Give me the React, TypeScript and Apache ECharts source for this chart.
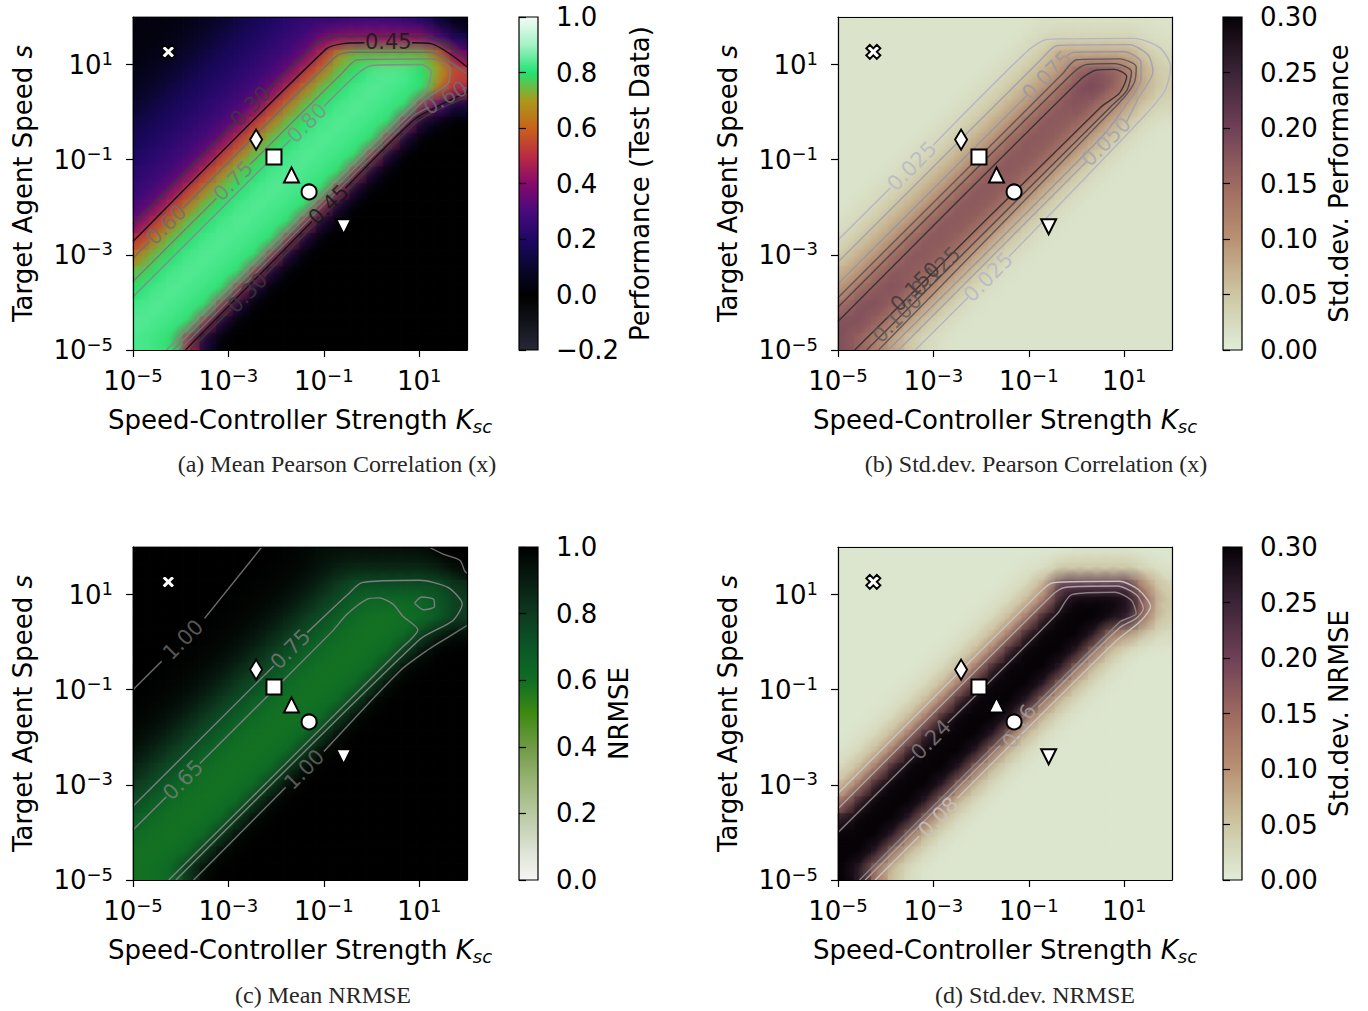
import React, { useEffect, useRef } from 'react';
import * as echarts from 'echarts';

const FONT = "'DejaVu Sans', sans-serif";
const SERIF = "'Liberation Serif', 'DejaVu Serif', serif";

// Sampled maps on a 20 x 20 grid of cells spanning K_sc = 1e-5..1e2 and s = 1e-5..1e2.
// Rows run from the top (largest s) to the bottom, columns from the smallest K_sc.
const meanCorrelation = [
  [.03, .03, .03, .05, .07, .10, .14, .17, .20, .23, .25, .26, .27, .28, .28, .28, .26, .22, .12, .04],
  [.03, .03, .05, .07, .10, .14, .17, .20, .23, .26, .29, .38, .42, .43, .43, .43, .43, .42, .30, .18],
  [.03, .05, .07, .10, .14, .17, .20, .23, .26, .29, .38, .52, .70, .75, .75, .75, .75, .74, .62, .40],
  [.05, .07, .10, .14, .17, .20, .23, .26, .29, .38, .52, .65, .76, .80, .83, .84, .83, .80, .70, .55],
  [.07, .10, .14, .17, .20, .23, .26, .29, .38, .52, .65, .76, .80, .83, .84, .83, .82, .79, .60, .47],
  [.10, .14, .17, .20, .23, .26, .29, .38, .52, .65, .76, .80, .83, .84, .83, .82, .79, .48, .30, .12],
  [.14, .17, .20, .23, .26, .29, .38, .52, .65, .76, .80, .83, .84, .83, .82, .79, .45, .12, .03, 0],
  [.17, .20, .23, .26, .29, .38, .52, .65, .76, .80, .83, .84, .83, .82, .79, .48, .12, 0, 0, 0],
  [.20, .23, .26, .29, .38, .52, .65, .76, .80, .83, .84, .83, .82, .79, .48, .12, 0, 0, 0, 0],
  [.23, .26, .29, .38, .52, .65, .76, .80, .83, .84, .83, .82, .79, .48, .12, 0, 0, 0, 0, 0],
  [.26, .29, .38, .52, .65, .76, .80, .83, .84, .83, .82, .79, .48, .12, 0, 0, 0, 0, 0, 0],
  [.29, .38, .52, .65, .76, .80, .83, .84, .83, .82, .79, .48, .12, 0, 0, 0, 0, 0, 0, 0],
  [.38, .52, .65, .76, .80, .83, .84, .83, .82, .79, .48, .12, 0, 0, 0, 0, 0, 0, 0, 0],
  [.52, .65, .76, .80, .83, .84, .83, .82, .79, .48, .12, 0, 0, 0, 0, 0, 0, 0, 0, 0],
  [.65, .76, .80, .83, .84, .83, .82, .79, .48, .12, 0, 0, 0, 0, 0, 0, 0, 0, 0, 0],
  [.76, .80, .83, .84, .83, .82, .79, .48, .12, 0, 0, 0, 0, 0, 0, 0, 0, 0, 0, 0],
  [.80, .83, .84, .83, .82, .79, .48, .12, 0, 0, 0, 0, 0, 0, 0, 0, 0, 0, 0, 0],
  [.83, .84, .83, .82, .79, .48, .12, 0, 0, 0, 0, 0, 0, 0, 0, 0, 0, 0, 0, 0],
  [.84, .83, .82, .79, .48, .12, 0, 0, 0, 0, 0, 0, 0, 0, 0, 0, 0, 0, 0, 0],
  [.83, .82, .79, .48, .12, 0, 0, 0, 0, 0, 0, 0, 0, 0, 0, 0, 0, 0, 0, 0],
];

const stdCorrelation = [
  [.013, .013, .013, .013, .013, .013, .013, .013, .013, .013, .013, .013, .018, .018, .018, .018, .018, .018, .015, .013],
  [.013, .013, .013, .013, .013, .013, .013, .013, .013, .013, .013, .02, .03, .035, .035, .035, .035, .035, .025, .018],
  [.013, .013, .013, .013, .013, .013, .013, .013, .013, .013, .02, .03, .05, .085, .085, .085, .085, .08, .05, .03],
  [.013, .013, .013, .013, .013, .013, .013, .013, .013, .02, .03, .05, .075, .1, .16, .18, .17, .13, .07, .04],
  [.013, .013, .013, .013, .013, .013, .013, .013, .02, .03, .05, .075, .1, .15, .18, .19, .16, .12, .07, .04],
  [.013, .013, .013, .013, .013, .013, .013, .02, .03, .05, .075, .1, .15, .17, .18, .155, .12, .08, .045, .03],
  [.013, .013, .013, .013, .013, .013, .02, .03, .05, .075, .1, .15, .17, .17, .155, .12, .08, .045, .025, .015],
  [.013, .013, .013, .013, .013, .02, .03, .05, .075, .1, .15, .17, .17, .155, .12, .08, .045, .025, .015, .012],
  [.013, .013, .013, .013, .02, .03, .05, .075, .1, .15, .17, .17, .155, .12, .08, .045, .025, .015, .012, .012],
  [.013, .013, .013, .02, .03, .05, .075, .1, .15, .17, .17, .155, .12, .08, .045, .025, .015, .012, .012, .012],
  [.013, .013, .02, .03, .05, .075, .1, .15, .17, .17, .155, .12, .08, .045, .025, .015, .012, .012, .012, .012],
  [.013, .02, .03, .05, .075, .1, .15, .17, .17, .155, .12, .08, .045, .025, .015, .012, .012, .012, .012, .012],
  [.02, .03, .05, .075, .1, .15, .17, .17, .155, .12, .08, .045, .025, .015, .012, .012, .012, .012, .012, .012],
  [.03, .05, .075, .1, .15, .17, .17, .155, .12, .08, .045, .025, .015, .012, .012, .012, .012, .012, .012, .012],
  [.05, .075, .1, .15, .17, .17, .155, .12, .08, .045, .025, .015, .012, .012, .012, .012, .012, .012, .012, .012],
  [.075, .1, .15, .17, .17, .155, .12, .08, .045, .025, .015, .012, .012, .012, .012, .012, .012, .012, .012, .012],
  [.1, .15, .17, .18, .155, .12, .08, .045, .025, .015, .012, .012, .012, .012, .012, .012, .012, .012, .012, .012],
  [.15, .18, .18, .155, .12, .08, .045, .025, .015, .012, .012, .012, .012, .012, .012, .012, .012, .012, .012, .012],
  [.18, .18, .155, .12, .08, .045, .025, .015, .012, .012, .012, .012, .012, .012, .012, .012, .012, .012, .012, .012],
  [.18, .155, .12, .08, .045, .025, .015, .012, .012, .012, .012, .012, .012, .012, .012, .012, .012, .012, .012, .012],
];

const meanNrmse = [
  [1, 1, 1, 1, 1, 1, 1, 1, 1, .99, .97, .95, .94, .94, .94, .94, .94, .95, .99, 1],
  [1, 1, 1, 1, 1, 1, 1, 1, .99, .98, .96, .92, .88, .86, .86, .86, .86, .86, .89, .96],
  [1, 1, 1, 1, 1, 1, 1, .99, .98, .96, .92, .86, .79, .72, .72, .72, .72, .72, .74, .82],
  [1, 1, 1, 1, 1, 1, .99, .98, .96, .92, .86, .79, .72, .65, .63, .62, .62, .64, .7, .78],
  [1, 1, 1, 1, 1, .99, .98, .96, .92, .86, .79, .72, .65, .61, .59, .59, .6, .63, .7, .8],
  [1, 1, 1, 1, .99, .98, .96, .92, .86, .79, .72, .65, .61, .59, .59, .6, .63, .8, .9, .97],
  [1, 1, 1, .99, .98, .96, .92, .86, .79, .72, .65, .61, .59, .59, .6, .63, .82, .95, 1, 1],
  [1, 1, .99, .98, .96, .92, .86, .79, .72, .65, .61, .59, .59, .6, .63, .82, .98, 1, 1, 1],
  [1, .99, .98, .96, .92, .86, .79, .72, .65, .61, .59, .59, .6, .63, .82, .98, 1, 1, 1, 1],
  [.99, .98, .96, .92, .86, .79, .72, .65, .61, .59, .59, .6, .63, .82, .98, 1, 1, 1, 1, 1],
  [.98, .96, .92, .86, .79, .72, .65, .61, .59, .59, .6, .63, .82, .98, 1, 1, 1, 1, 1, 1],
  [.96, .92, .86, .79, .72, .65, .61, .59, .59, .6, .63, .82, .98, 1, 1, 1, 1, 1, 1, 1],
  [.92, .86, .79, .72, .65, .61, .59, .59, .6, .63, .82, .98, 1, 1, 1, 1, 1, 1, 1, 1],
  [.86, .79, .72, .65, .61, .59, .59, .6, .63, .82, .98, 1, 1, 1, 1, 1, 1, 1, 1, 1],
  [.79, .72, .65, .61, .59, .59, .6, .63, .82, .98, 1, 1, 1, 1, 1, 1, 1, 1, 1, 1],
  [.72, .65, .61, .59, .59, .6, .63, .82, .98, 1, 1, 1, 1, 1, 1, 1, 1, 1, 1, 1],
  [.65, .61, .59, .59, .6, .63, .82, .98, 1, 1, 1, 1, 1, 1, 1, 1, 1, 1, 1, 1],
  [.61, .59, .59, .6, .63, .82, .98, 1, 1, 1, 1, 1, 1, 1, 1, 1, 1, 1, 1, 1],
  [.59, .59, .6, .63, .82, .98, 1, 1, 1, 1, 1, 1, 1, 1, 1, 1, 1, 1, 1, 1],
  [.59, .6, .63, .82, .98, 1, 1, 1, 1, 1, 1, 1, 1, 1, 1, 1, 1, 1, 1, 1],
];

const stdNrmse = [
  [.01, .01, .01, .01, .01, .01, .01, .01, .01, .01, .01, .01, .01, .01, .015, .015, .015, .015, .01, .01],
  [.01, .01, .01, .01, .01, .01, .01, .01, .01, .01, .01, .015, .02, .05, .05, .05, .05, .05, .03, .015],
  [.01, .01, .01, .01, .01, .01, .01, .01, .01, .01, .015, .03, .08, .22, .22, .22, .22, .22, .1, .04],
  [.01, .01, .01, .01, .01, .01, .01, .01, .01, .015, .03, .07, .15, .27, .3, .3, .3, .28, .16, .05],
  [.01, .01, .01, .01, .01, .01, .01, .01, .015, .03, .07, .15, .27, .3, .3, .3, .28, .25, .12, .04],
  [.01, .01, .01, .01, .01, .01, .01, .015, .03, .07, .15, .27, .3, .3, .3, .26, .12, .08, .04, .02],
  [.01, .01, .01, .01, .01, .01, .015, .03, .07, .15, .27, .3, .3, .3, .26, .12, .05, .02, .01, .01],
  [.01, .01, .01, .01, .01, .015, .03, .07, .15, .27, .3, .3, .3, .26, .12, .05, .02, .01, .01, .01],
  [.01, .01, .01, .01, .015, .03, .07, .15, .27, .3, .3, .3, .26, .12, .05, .02, .01, .01, .01, .01],
  [.01, .01, .01, .015, .03, .07, .15, .27, .3, .3, .3, .26, .12, .05, .02, .01, .01, .01, .01, .01],
  [.01, .01, .015, .03, .07, .15, .27, .3, .3, .3, .26, .12, .05, .02, .01, .01, .01, .01, .01, .01],
  [.01, .015, .03, .07, .15, .27, .3, .3, .3, .26, .12, .05, .02, .01, .01, .01, .01, .01, .01, .01],
  [.015, .03, .07, .15, .27, .3, .3, .3, .26, .12, .05, .02, .01, .01, .01, .01, .01, .01, .01, .01],
  [.03, .07, .15, .27, .3, .3, .3, .26, .12, .05, .02, .01, .01, .01, .01, .01, .01, .01, .01, .01],
  [.07, .15, .27, .3, .3, .3, .26, .12, .05, .02, .01, .01, .01, .01, .01, .01, .01, .01, .01, .01],
  [.15, .27, .3, .3, .3, .26, .12, .05, .02, .01, .01, .01, .01, .01, .01, .01, .01, .01, .01, .01],
  [.27, .3, .3, .3, .26, .12, .05, .02, .01, .01, .01, .01, .01, .01, .01, .01, .01, .01, .01, .01],
  [.3, .3, .3, .26, .12, .05, .02, .01, .01, .01, .01, .01, .01, .01, .01, .01, .01, .01, .01, .01],
  [.3, .3, .26, .12, .05, .02, .01, .01, .01, .01, .01, .01, .01, .01, .01, .01, .01, .01, .01, .01],
  [.3, .26, .12, .05, .02, .01, .01, .01, .01, .01, .01, .01, .01, .01, .01, .01, .01, .01, .01, .01],
];

// Reference configurations (K_sc, s) shown on every map.
const markerNames = ['x', 'diamond', 'square', 'triangle', 'circle', 'triangleDown'];
const markerK = [5.5e-5, 3.8e-3, 9.0e-3, 0.021, 0.049, 0.26];
const markerS = [18.5, 0.265, 0.114, 0.048, 0.021, 0.0039];

// Contour polylines, points given as (log10 K_sc, log10 s); gaps leave room for the labels.
const corrMeanContours = [
  { level: '0.30', color: '#3a3a3a', segments: [
    [[-5, -2.35], [-2.85, -0.2]],
    [[-2.2, 0.45], [-1.15, 1.45], [-0.85, 1.6], [1.2, 1.6], [1.6, 1.4], [2, 1.12]],
    [[-3.8, -5], [-2.95, -4.15]],
    [[-2.25, -3.45], [0.9, -0.25], [1.4, 0.05], [2, 0.32]]] },
  { level: '0.45', color: '#141414', segments: [
    [[-5, -2.72], [-0.95, 1.33], [-0.6, 1.44], [-0.15, 1.46]],
    [[0.85, 1.46], [1.25, 1.44], [1.65, 1.22], [2, 0.95]],
    [[-3.9, -5], [-1.25, -2.3]],
    [[-0.55, -1.6], [0.9, -0.15], [1.4, 0.13], [2, 0.42]]] },
  { level: '0.60', color: '#6e6e6e', segments: [
    [[-5, -3.07], [-4.65, -2.72]],
    [[-3.95, -2.02], [-0.75, 1.17], [-0.45, 1.26], [1.25, 1.26], [1.65, 1.05], [2, 0.8]],
    [[-4.02, -5], [0.85, -0.1], [1.2, 0.1]],
    [[1.9, 0.48], [2, 0.52]]] },
  { level: '0.75', color: '#7c7c7c', segments: [
    [[-5, -3.56], [-3.25, -1.81]],
    [[-2.55, -1.1], [-0.6, 0.84], [-0.3, 1.1], [1.3, 1.12], [1.65, 0.9], [1.6, 0.6], [1.1, 0.25], [-4.16, -5]]] },
  { level: '0.80', color: '#8a8a8a', segments: [
    [[-5, -3.88], [-1.7, -0.58]],
    [[-1.0, 0.12], [-0.3, 0.8], [0.0, 0.98], [1.05, 1.0], [1.25, 0.85], [1.15, 0.45], [0.85, 0.15], [-4.3, -5]]] },
];
const corrMeanLabels = [
  { level: '0.30', at: [-2.54, 0.12], rotate: 45, color: '#3a3a3a' },
  { level: '0.30', at: [-2.6, -3.8], rotate: 45, color: '#3a3a3a' },
  { level: '0.45', at: [0.35, 1.47], rotate: 0, color: '#141414' },
  { level: '0.45', at: [-0.9, -1.95], rotate: 45, color: '#141414' },
  { level: '0.60', at: [-4.3, -2.37], rotate: 45, color: '#6e6e6e' },
  { level: '0.60', at: [1.55, 0.3], rotate: 30, color: '#6e6e6e' },
  { level: '0.75', at: [-2.9, -1.45], rotate: 45, color: '#7c7c7c' },
  { level: '0.80', at: [-1.35, -0.23], rotate: 45, color: '#8a8a8a' },
];

const corrStdContours = [
  { level: '0.025', color: '#b4b6c6', segments: [
    [[-5, -2.69], [-3.9, -1.59]],
    [[-3.0, -0.69], [-1.0, 1.31], [-0.6, 1.53], [1.2, 1.55], [1.75, 1.35], [1.97, 0.95], [1.85, 0.45], [1.4, -0.1], [-1.42, -3.04]],
    [[-2.28, -3.9], [-3.38, -5]]] },
  { level: '0.050', color: '#a2a3b0', segments: [
    [[-5, -3.15], [-0.75, 1.1], [-0.4, 1.4], [1.1, 1.42], [1.5, 1.2], [1.6, 0.85], [1.3, 0.3], [1.05, -0.2]],
    [[0.2, -1.05], [-3.73, -5]]] },
  { level: '0.075', color: '#9797a2', segments: [
    [[-5, -3.61], [-1.05, 0.34]],
    [[-0.2, 1.19], [-0.05, 1.26], [1.0, 1.27], [1.35, 1.05], [1.35, 0.7], [1.0, 0.1], [0.5, -0.55], [-3.95, -5]]] },
  { level: '0.100', color: '#5e5a5e', segments: [
    [[-5, -3.9], [-0.3, 0.8], [0.0, 1.1], [0.9, 1.12], [1.25, 0.95], [1.2, 0.6], [0.85, 0.15], [-4.15, -5]]] },
  { level: '0.125', color: '#4c484c', segments: [
    [[-5, -4.1], [-0.1, 0.8], [0.2, 1.0], [0.8, 1.02], [1.15, 0.85], [1.05, 0.45], [0.7, 0.1], [-4.4, -5]]] },
  { level: '0.150', color: '#383438', segments: [
    [[-5, -4.4], [0.1, 0.7], [0.4, 0.88], [0.8, 0.9], [1.05, 0.75], [0.9, 0.4], [0.5, 0.1], [-4.65, -5]]] },
];
const corrStdLabels = [
  { level: '0.025', at: [-3.45, -1.14], rotate: 45, color: '#b4b6c6' },
  { level: '0.025', at: [-1.85, -3.47], rotate: 45, color: '#b4b6c6' },
  { level: '0.050', at: [0.62, -0.62], rotate: 45, color: '#a2a3b0' },
  { level: '0.075', at: [-0.62, 0.77], rotate: 45, color: '#9797a2' },
  { level: '0.100', at: [-3.76, -4.33], rotate: 45, color: '#5e5a5e' },
  { level: '0.150', at: [-3.38, -3.67], rotate: 45, color: '#383438' },
  { level: '0.125', at: [-2.95, -3.35], rotate: 45, color: '#4c484c' },
];

const nrmseMeanContours = [
  { level: '1.00', color: '#6e6e6e', segments: [
    [[-5, -1.0], [-4.4, -0.4]],
    [[-3.5, 0.5], [-2.3, 2.0]],
    [[1.2, 2.0], [1.5, 1.85], [1.85, 1.72], [1.95, 1.5], [2, 1.45]],
    [[-3.73, -5], [-1.8, -3.05]],
    [[-1.0, -2.3], [0.6, -0.6], [1.2, -0.15], [1.6, 0.1], [2, 0.35]]] },
  { level: '0.75', color: '#7e7e7e', segments: [
    [[-5, -3.45], [-2.05, -0.5]],
    [[-1.35, 0.2], [-0.5, 1.0], [-0.2, 1.25], [1.0, 1.3], [1.6, 1.15], [1.9, 0.8], [1.7, 0.45], [1.0, 0.05], [-4.1, -5]]] },
  { level: '0.65', color: '#7e7e7e', segments: [
    [[-5, -3.95], [-4.3, -3.25]],
    [[-3.6, -2.55], [-0.85, 0.2], [-0.5, 0.6], [-0.1, 0.9], [0.15, 0.93], [0.45, 0.8], [0.65, 0.55], [0.97, 0.26], [0.6, -0.15], [-4.25, -5]],
    [[0.9, 0.82], [1.05, 0.95], [1.3, 0.9], [1.32, 0.75], [1.1, 0.68], [0.9, 0.82]]] },
];
const nrmseMeanLabels = [
  { level: '1.00', at: [-3.95, 0.05], rotate: 45, color: '#6e6e6e' },
  { level: '1.00', at: [-1.41, -2.68], rotate: 45, color: '#6e6e6e' },
  { level: '0.75', at: [-1.7, -0.15], rotate: 45, color: '#7e7e7e' },
  { level: '0.65', at: [-3.95, -2.9], rotate: 45, color: '#7e7e7e' },
];

const nrmseStdContours = [
  { level: '0.08', color: '#c9c3c3', segments: [
    [[-5, -3.18], [-0.75, 1.07], [-0.5, 1.25], [0.9, 1.28], [1.3, 1.1], [1.55, 0.75], [1.35, 0.45], [0.8, 0.0], [-2.5, -3.28]],
    [[-3.3, -4.08], [-4.22, -5]]] },
  { level: '0.16', color: '#aaa2a6', segments: [
    [[-5, -3.5], [-0.5, 1.0], [-0.25, 1.15], [0.85, 1.18], [1.25, 1.0], [1.4, 0.7], [1.25, 0.5], [0.9, 0.3], [-0.8, -1.37]],
    [[-1.6, -2.17], [-4.43, -5]]] },
  { level: '0.24', color: '#888084', segments: [
    [[-5, -4.0], [-3.4, -2.4]],
    [[-2.7, -1.7], [-0.4, 0.6], [-0.1, 1.0], [0.8, 1.05], [1.15, 0.88], [1.25, 0.6], [0.9, 0.42], [-4.55, -5]]] },
];
const nrmseStdLabels = [
  { level: '0.08', at: [-2.9, -3.68], rotate: 45, color: '#c9c3c3' },
  { level: '0.16', at: [-1.2, -1.77], rotate: 60, color: '#aaa2a6' },
  { level: '0.24', at: [-3.05, -2.05], rotate: 45, color: '#888084' },
];

// Colour scales of the four maps.
const corrColors = ['#262837', '#121319', '#000000', '#0a0630', '#1e0866', '#4a0a7c', '#860a6c', '#bb2c42', '#c9621a', '#a99a1c', '#22e272', '#a4f2c6', '#f4fbf6'];
const nrmseColors = ['#f6f6f3', '#d9e0cf', '#b8c9a0', '#97b372', '#6f9a45', '#3d8a10', '#0f6e24', '#0b5626', '#0e3a1f', '#081c10', '#000000'];
const stdColors = ['#e0edd8', '#cdc6a3', '#b99172', '#9e6960', '#6f4057', '#3b2437', '#060206'];

const decadeTicks = [1e-5, 1e-3, 1e-1, 1e1];
const CELLS = 20;
const PLOT_W = 334;
const PLOT_H = 333;
const CB_W = 19;
const AXIS_LINE = { color: '#000', width: 1.2 };

const panels = [
  { left: 133, top: 17, cbLeft: 519, rows: meanCorrelation, colors: corrColors, min: -0.2, max: 1.0, step: 0.2, decimals: 1,
    cbName: 'Performance (Test Data)', cbGap: 89, contours: corrMeanContours, labels: corrMeanLabels,
    caption: '(a) Mean Pearson Correlation (x)', capX: 337, capY: 464 },
  { left: 838, top: 17, cbLeft: 1223, rows: stdCorrelation, colors: stdColors, min: 0, max: 0.3, step: 0.05, decimals: 2,
    cbName: 'Std.dev. Performance', cbGap: 84, contours: corrStdContours, labels: corrStdLabels,
    caption: '(b) Std.dev. Pearson Correlation (x)', capX: 1036, capY: 464 },
  { left: 133, top: 547, cbLeft: 519, rows: meanNrmse, colors: nrmseColors, min: 0, max: 1.0, step: 0.2, decimals: 1,
    cbName: 'NRMSE', cbGap: 68, contours: nrmseMeanContours, labels: nrmseMeanLabels,
    caption: '(c) Mean NRMSE', capX: 323, capY: 995 },
  { left: 838, top: 547, cbLeft: 1223, rows: stdNrmse, colors: stdColors, min: 0, max: 0.3, step: 0.05, decimals: 2,
    cbName: 'Std.dev. NRMSE', cbGap: 84, contours: nrmseStdContours, labels: nrmseStdLabels,
    caption: '(d) Std.dev. NRMSE', capX: 1035, capY: 995 },
];

const markerStyles: Record<string, any> = {
  x: { symbol: 'path://M0,2.5L2.5,0L5,2.5L7.5,0L10,2.5L7.5,5L10,7.5L7.5,10L5,7.5L2.5,10L0,7.5L2.5,5Z', symbolSize: 14 },
  diamond: { symbol: 'diamond', symbolSize: [12, 20] },
  square: { symbol: 'rect', symbolSize: 15 },
  triangle: { symbol: 'triangle', symbolSize: 15 },
  circle: { symbol: 'circle', symbolSize: 15 },
  triangleDown: { symbol: 'triangle', symbolSize: 15, symbolRotate: 180 },
};

const powRich = {
  b: { fontFamily: FONT, fontSize: 26, color: '#000', lineHeight: 30 },
  s: { fontFamily: FONT, fontSize: 18, color: '#000', lineHeight: 18, verticalAlign: 'top' },
};
const nameRich = {
  n: { fontFamily: FONT, fontSize: 26, color: '#000', lineHeight: 30 },
  k: { fontFamily: FONT, fontSize: 26, color: '#000', fontStyle: 'italic', lineHeight: 30 },
  u: { fontFamily: FONT, fontSize: 18, color: '#000', fontStyle: 'italic', lineHeight: 16, verticalAlign: 'bottom' },
};

const powLabel = (v: number) => {
  const e = Math.round(Math.log10(v));
  return `{b|10}{s|${e < 0 ? '\u2212' + -e : e}}`;
};

const toCells = (rows: number[][]) =>
  rows.flatMap((row, r) => row.map((v, i) => [i, rows.length - 1 - r, v]));

const toPoints = (seg: number[][]) => seg.map(([u, v]) => [Math.pow(10, u), Math.pow(10, v)]);

// Solid cell of the colour map.
const drawCell = (params: any, api: any) => {
  const i = api.value(0);
  const j = api.value(1);
  const a = api.coord([i, j + 1]);
  const b = api.coord([i + 1, j]);
  const c = api.visual('color');
  return {
    type: 'rect',
    shape: { x: a[0], y: a[1], width: b[0] - a[0], height: b[1] - a[1] },
    style: { fill: c, stroke: c, lineWidth: 0.8 },
  };
};

// Soft overlay that smooths the shading between neighbouring cells (kept inside the plot area).
const drawSoftCell = (params: any, api: any) => {
  const i = api.value(0);
  const j = api.value(1);
  const ctr = api.coord([i + 0.5, j + 0.5]);
  const size = api.size([1, 1]);
  const R = size[0] * 1.35;
  const cs = params.coordSys;
  const x0 = Math.max(cs.x, ctr[0] - R);
  const x1 = Math.min(cs.x + cs.width, ctr[0] + R);
  const y0 = Math.max(cs.y, ctr[1] - R);
  const y1 = Math.min(cs.y + cs.height, ctr[1] + R);
  const c = api.visual('color');
  return {
    type: 'rect',
    shape: { x: x0, y: y0, width: x1 - x0, height: y1 - y0 },
    style: {
      fill: new echarts.graphic.RadialGradient(ctr[0], ctr[1], R, [
        { offset: 0, color: echarts.color.modifyAlpha(c, 0.7) },
        { offset: 0.5, color: echarts.color.modifyAlpha(c, 0.4) },
        { offset: 1, color: echarts.color.modifyAlpha(c, 0) },
      ], true),
    },
  };
};

function buildOption() {
  const grid: any[] = [];
  const xAxis: any[] = [];
  const yAxis: any[] = [];
  const series: any[] = [];
  const visualMap: any[] = [];

  panels.forEach((p, n) => {
    const g = 2 * n;
    const cg = 2 * n + 1;
    const ax = 3 * n;

    grid.push({ left: p.left, top: p.top, width: PLOT_W, height: PLOT_H });
    grid.push({
      left: p.cbLeft, top: p.top, width: CB_W, height: PLOT_H, show: true,
      borderColor: '#000', borderWidth: 1.2,
      backgroundColor: {
        type: 'linear', x: 0, y: 1, x2: 0, y2: 0,
        colorStops: p.colors.map((c, i) => ({ offset: i / (p.colors.length - 1), color: c })),
      },
    });

    xAxis.push(
      {
        type: 'log', logBase: 10, gridIndex: g, position: 'bottom', min: 1e-5, max: 1e2, z: 10,
        axisLine: { show: true, onZero: false, lineStyle: AXIS_LINE },
        axisTick: { show: true, length: 7, lineStyle: AXIS_LINE, customValues: decadeTicks },
        axisLabel: { show: true, margin: 16, customValues: decadeTicks, formatter: powLabel, rich: powRich },
        minorTick: { show: false }, splitLine: { show: false }, minorSplitLine: { show: false },
        name: '{n|Speed-Controller Strength }{k|K}{u|sc}', nameLocation: 'middle', nameGap: 55,
        nameTextStyle: { rich: nameRich },
      },
      {
        type: 'value', gridIndex: g, position: 'top', min: 0, max: CELLS, z: 10,
        axisLine: { show: true, onZero: false, lineStyle: AXIS_LINE },
        axisTick: { show: false }, axisLabel: { show: false }, splitLine: { show: false },
      },
      { type: 'value', gridIndex: cg, show: false, min: 0, max: 1 },
    );

    yAxis.push(
      {
        type: 'log', logBase: 10, gridIndex: g, position: 'left', min: 1e-5, max: 1e2, z: 10,
        axisLine: { show: true, onZero: false, lineStyle: AXIS_LINE },
        axisTick: { show: true, length: 7, lineStyle: AXIS_LINE, customValues: decadeTicks },
        axisLabel: { show: true, margin: 20, customValues: decadeTicks, formatter: powLabel, rich: powRich },
        minorTick: { show: false }, splitLine: { show: false }, minorSplitLine: { show: false },
        name: '{n|Target Agent Speed }{k|s}', nameLocation: 'middle', nameRotate: 90, nameGap: 95,
        nameTextStyle: { rich: nameRich },
      },
      {
        type: 'value', gridIndex: g, position: 'right', min: 0, max: CELLS, z: 10,
        axisLine: { show: true, onZero: false, lineStyle: AXIS_LINE },
        axisTick: { show: false }, axisLabel: { show: false }, splitLine: { show: false },
      },
      {
        type: 'value', gridIndex: cg, position: 'right', min: p.min, max: p.max, interval: p.step, z: 10,
        axisLine: { show: false },
        axisTick: { show: true, length: 7, lineStyle: AXIS_LINE },
        axisLabel: {
          margin: 18, fontSize: 26, fontFamily: FONT, color: '#000',
          formatter: (v: number) => v.toFixed(p.decimals).replace('-', '\u2212'),
        },
        splitLine: { show: false },
        name: p.cbName, nameLocation: 'middle', nameRotate: 90, nameGap: p.cbGap,
        nameTextStyle: { fontSize: 26, fontFamily: FONT, color: '#000' },
      },
    );

    // colour map: solid cells, then a soft overlay
    const heatIndex = series.length;
    const cells = toCells(p.rows);
    series.push({
      type: 'custom', coordinateSystem: 'cartesian2d', xAxisIndex: ax + 1, yAxisIndex: ax + 1,
      dimensions: ['col', 'row', 'value'], encode: { x: 0, y: 1 }, data: cells,
      silent: true, z: 1, renderItem: drawCell,
    });
    series.push({
      type: 'custom', coordinateSystem: 'cartesian2d', xAxisIndex: ax + 1, yAxisIndex: ax + 1,
      dimensions: ['col', 'row', 'value'], encode: { x: 0, y: 1 }, data: cells,
      silent: true, z: 2, renderItem: drawSoftCell,
    });
    visualMap.push({
      type: 'continuous', show: false, seriesIndex: [heatIndex, heatIndex + 1], dimension: 2,
      min: p.min, max: p.max, inRange: { color: p.colors },
    });

    // contour lines
    p.contours.forEach((c) => {
      c.segments.forEach((seg) => {
        series.push({
          type: 'line', xAxisIndex: ax, yAxisIndex: ax, data: toPoints(seg),
          symbol: 'none', showSymbol: false, smooth: 0.25, silent: true, z: 5,
          lineStyle: { color: c.color, width: 1.4 },
        });
      });
    });

    // contour level labels
    series.push({
      type: 'scatter', xAxisIndex: ax, yAxisIndex: ax, symbolSize: 1, silent: true, z: 6,
      itemStyle: { color: 'rgba(0,0,0,0)' },
      data: p.labels.map((l) => ({
        value: [Math.pow(10, l.at[0]), Math.pow(10, l.at[1])],
        label: {
          show: true, position: 'inside', formatter: l.level, rotate: l.rotate,
          color: l.color, fontSize: 21, fontFamily: FONT,
        },
      })),
    });

    // reference configurations
    series.push({
      type: 'scatter', xAxisIndex: ax, yAxisIndex: ax, silent: true, z: 20,
      itemStyle: { color: '#ffffff', borderColor: '#000', borderWidth: 2, opacity: 1 },
      data: markerNames.map((m, i) => ({ value: [markerK[i], markerS[i]], ...markerStyles[m] })),
    });
  });

  const graphic = panels.map((p) => ({
    type: 'text', x: p.capX, y: p.capY, z: 50,
    style: {
      text: p.caption, font: `24px ${SERIF}`, fill: '#262626',
      align: 'center', verticalAlign: 'middle', textAlign: 'center', textVerticalAlign: 'middle',
    },
  }));

  return {
    animation: false,
    backgroundColor: '#ffffff',
    textStyle: { fontFamily: FONT },
    grid, xAxis, yAxis, series, visualMap, graphic,
  };
}

export default function App() {
  const ref = useRef<HTMLDivElement>(null);
  useEffect(() => {
    if (!ref.current) return;
    const chart = echarts.init(ref.current, null, { renderer: 'svg', width: 1368, height: 1011 });
    chart.setOption(buildOption() as any);
    return () => chart.dispose();
  }, []);
  return (
    <div
      ref={ref}
      style={{ position: 'fixed', left: 0, top: 0, width: 1368, height: 1011, background: '#fff' }}
    />
  );
}
